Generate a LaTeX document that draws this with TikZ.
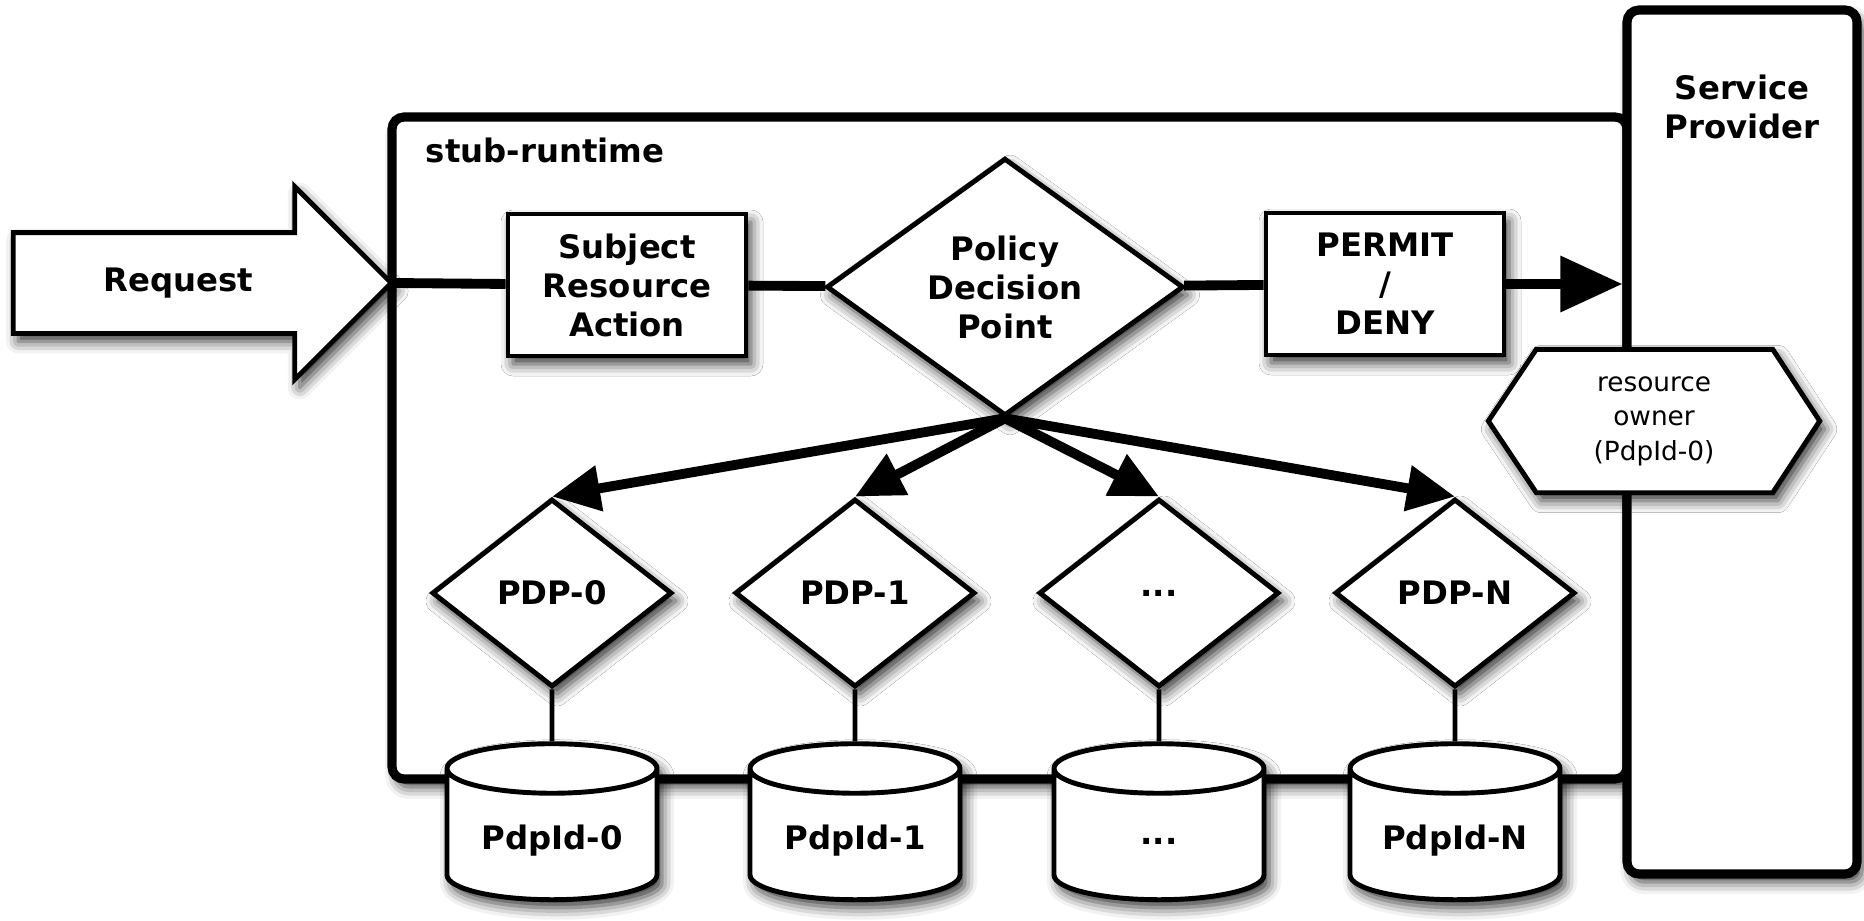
\documentclass[tikz,border=0pt]{standalone}
\usepackage{fontspec}
\setmainfont{DejaVu Sans}
\usetikzlibrary{arrows.meta,positioning,calc,shapes.geometric,shapes.arrows,shadows.blur}
\newcommand{\ellip}{...}

\begin{document}
\begin{tikzpicture}[
    x=0.1mm, y=-0.1mm,
    every node/.style={font=\bfseries\fontsize{9.2}{11.1}\selectfont},
    softshadow/.style={blur shadow={shadow xshift=0.5mm, shadow yshift=-0.8mm,
        shadow blur radius=1.2mm, shadow opacity=80}},
    frame/.style={rectangle, draw, line width=2.6pt, rounded corners=1.2mm, fill=white, softshadow},
    box/.style={rectangle, draw, line width=1.4pt, fill=white, align=center,
        minimum width=23.8mm, minimum height=14.2mm, softshadow},
    decision/.style={diamond, draw, line width=1.4pt, fill=white, inner sep=0pt,
        align=center, softshadow},
    pdpnode/.style={decision, minimum width=24mm, minimum height=18.8mm},
    store/.style={cylinder, shape border rotate=90, aspect=0.27, draw, line width=1.4pt,
        fill=white, text width=16mm, align=center, minimum width=21mm,
        minimum height=15.6mm, softshadow},
    bigarrow/.style={single arrow, draw, line width=1.4pt, fill=white, inner xsep=0pt,
        inner ysep=4.8mm, minimum width=18.8mm, minimum height=37.8mm,
        single arrow head extend=4.6mm, softshadow},
    small/.style={font=\fontsize{7.5}{9.8}\selectfont, align=center},
    link/.style={line width=2.8pt},
    thinlink/.style={line width=1.4pt},
    arrow/.style={link, -{Triangle[length=4.8mm, width=4.4mm, fill=black]}},
    bigtip/.style={link, -{Triangle[length=6.2mm, width=5.4mm, fill=black]}},
]
\useasboundingbox (0,0) rectangle (1864,920);

% Containers
\node[frame, minimum width=123.5mm, minimum height=66.2mm] (stub) at (1009.5,448) {};
\node[anchor=north west] (stublabel) at ([xshift=2.6mm, yshift=-1.3mm]stub.north west) {stub-runtime};

\node[bigarrow] (req) at (177,283) {};
\node (reqlabel) at (178,283) {Request};

% Decision chain
\node[box] (subj) at (627,285) {Subject\\Resource\\Action};
\node[decision, minimum width=35.7mm, minimum height=25.4mm] (pdp) at (1005,287) {Policy\\Decision\\Point};
\node[box] (permit) at (1385,284) {PERMIT\\/\\DENY};

\node[frame, minimum width=23mm, minimum height=86.4mm] (sp) at (1742,442) {};
\node[below=5.7mm of sp.north, align=center] (splabel) {Service\\Provider};

% resource owner
\node[minimum width=33mm, minimum height=14.2mm] (owner) at (1654,421) {};
\filldraw[line width=1.4pt, fill=white, softshadow] (owner.west) -- ([xshift=4.8mm]owner.north west)
    -- ([xshift=-4.7mm]owner.north east) -- (owner.east) -- ([xshift=-4.7mm]owner.south east)
    -- ([xshift=4.8mm]owner.south west) -- cycle;
\node[small] (ownerlabel) at (owner) {resource\\owner\\(PdpId-0)};

\draw[link] (req.tip) -- (subj);
\draw[link] (subj) -- (pdp);
\draw[link] (pdp) -- (permit);
\draw[bigtip] (permit) -- (permit -| sp.west);

% PDPs and their stores
\foreach \i/\x/\t/\s in {0/552/PDP-0/PdpId-0, 1/855/PDP-1/PdpId-1, 2/1159/\ellip/\ellip, 3/1455/PDP-N/PdpId-N} {
    \node[pdpnode] (p\i) at (\x,593) {\t};
    \node[store] (d\i) at (\x,841) {\s};
    \draw[thinlink] (p\i) -- (d\i);
    \draw[arrow] (pdp.south) -- (p\i.north);
}
\end{tikzpicture}
\end{document}
